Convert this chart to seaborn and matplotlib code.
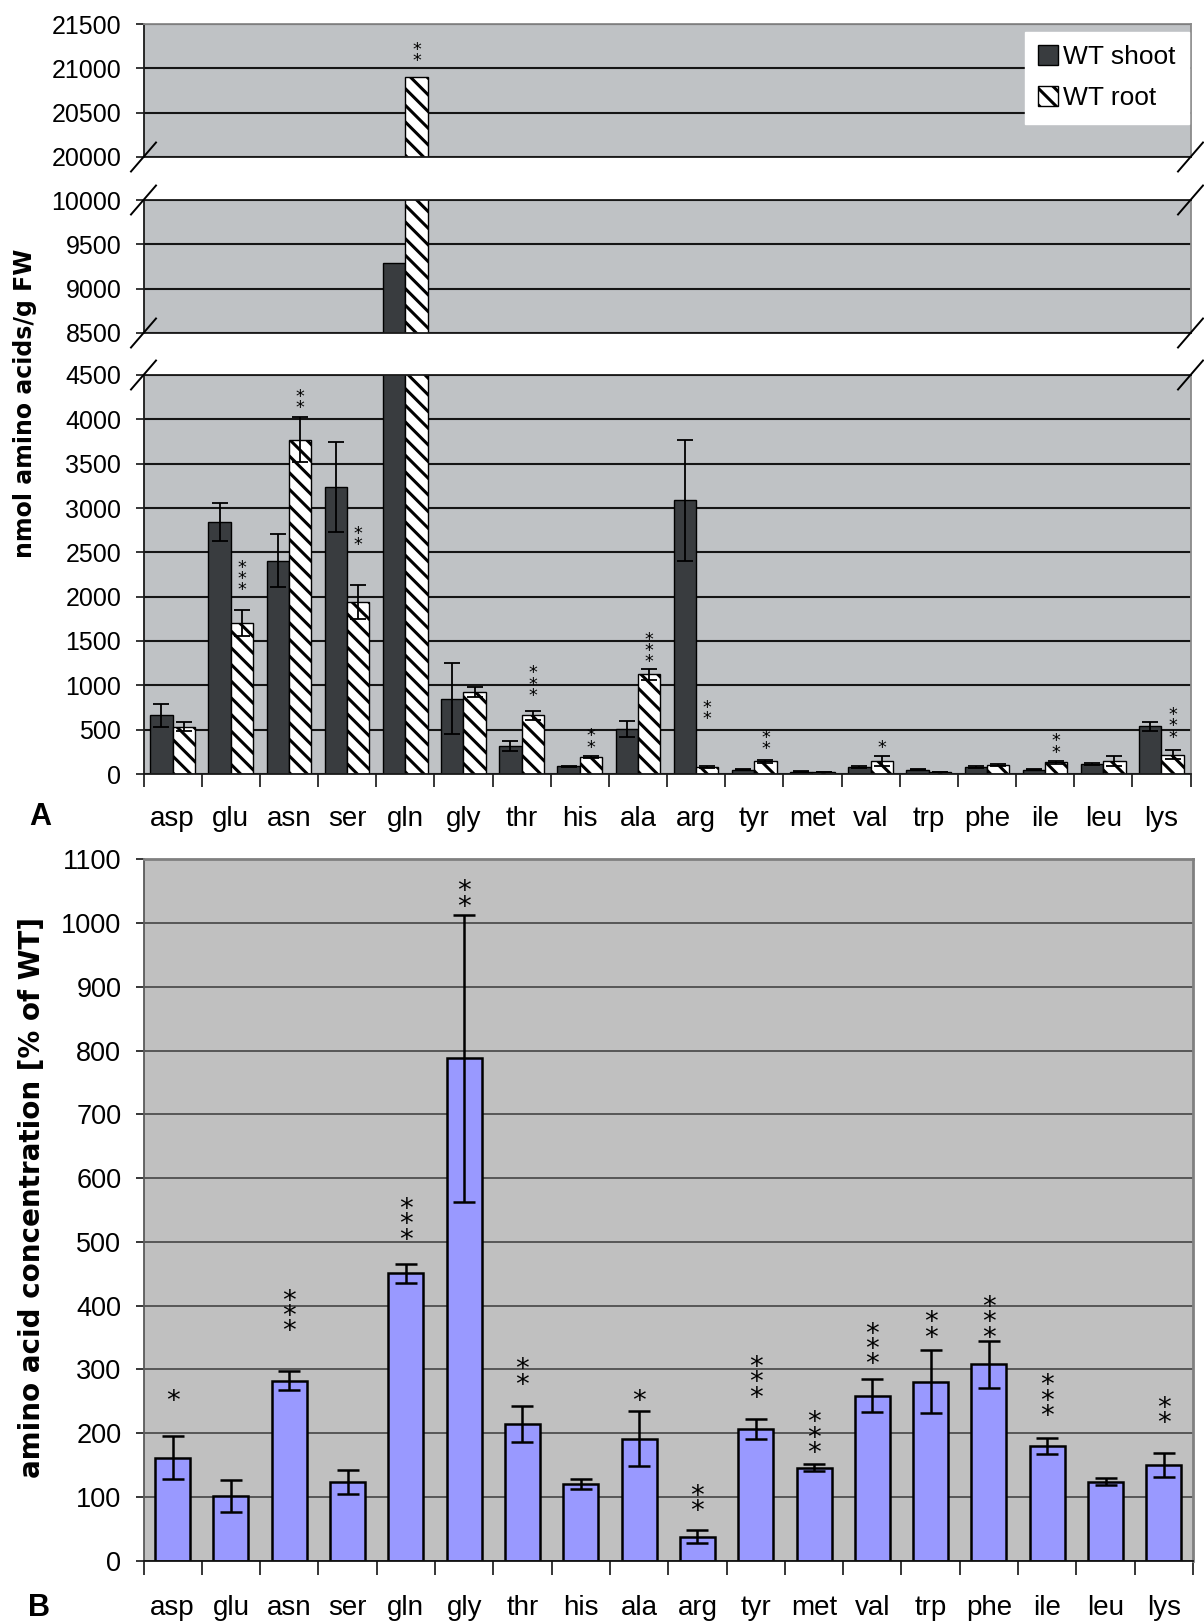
import numpy as np
import pandas as pd
import matplotlib
matplotlib.use("Agg")
import matplotlib.pyplot as plt
from matplotlib.patches import Patch
from matplotlib.lines import Line2D
from matplotlib.textpath import TextPath
from matplotlib.font_manager import FontProperties
import seaborn as sns

# ---------------- data ----------------
amino = ["asp", "glu", "asn", "ser", "gln", "gly", "thr", "his", "ala",
         "arg", "tyr", "met", "val", "trp", "phe", "ile", "leu", "lys"]

# Panel A: nmol amino acids / g FW
shoot = [660, 2840, 2405, 3235, 9290, 848, 313, 85, 509,
         3085, 49, 26, 79, 49, 79, 49, 113, 539]
shoot_err = [130, 215, 300, 505, np.nan, 400, 55, 10, 90,
             680, 5, 3, 10, 5, 10, 5, 15, 50]
root = [535, 1700, 3770, 1940, 20900, 928, 660, 192, 1124,
        79, 143, 23, 143, 23, 98, 132, 143, 219]
root_err = [50, 145, 256, 190, np.nan, 55, 50, 15, 65,
            10, 15, 3, 55, 3, 10, 15, 55, 55]
# significance stars (root vs shoot): count and base value
a_star_n = [0, 3, 2, 2, 2, 0, 3, 2, 3, 2, 2, 0, 1, 0, 0, 2, 0, 3]
a_star_y = [0, 2066, 4122, 2576, 21080, 0, 879, 294, 1256,
            615, 275, 0, 294, 0, 0, 238, 0, 407]

# Panel B: % of WT
b_vals = [161.5, 101, 282, 124, 451, 788, 214, 120, 191,
          37.6, 206.5, 146, 259, 281, 308, 180, 124, 150]
b_err = [34, 25, 15, 19, 15, 225, 28, 7.5, 43,
         10, 15, 6, 26, 50, 37, 13, 6, 19]
b_star_n = [1, 0, 3, 0, 3, 2, 2, 0, 1, 2, 3, 3, 3, 2, 3, 3, 0, 2]
b_star_y = [249, 0, 359, 0, 503, 1025, 275, 0, 249,
            77, 255, 168, 307, 349, 349, 226, 0, 215]

a_segments = [(20000, 21500), (8500, 10000), (0, 4500)]
legend_labels = ["WT shoot", "WT root"]

# ---------------- style ----------------
plt.rcParams["font.family"] = ["Liberation Sans", "DejaVu Sans"]
plt.rcParams["hatch.linewidth"] = 2.2
plt.rcParams["axes.linewidth"] = 1.3

W, H = 1204, 1622
fig = plt.figure(figsize=(W / 100, H / 100), dpi=100)
fig.patch.set_facecolor("white")

dark = "#393c3f"
bgA = "#bfc2c5"
bgB = "#c0c0c0"
barB = "#9999ff"
HATCH = "\\\\"


def px_axes(x0, x1, ytop, ybot):
    return fig.add_axes([x0 / W, 1 - ybot / H, (x1 - x0) / W, (ybot - ytop) / H])


star_prop = FontProperties(family="DejaVu Sans")
_ext = TextPath((0, 0), "*", size=1, prop=star_prop).get_extents()
_lp = TextPath((0, 0), "lp", size=1, prop=star_prop).get_extents()
_lp_d = -_lp.y0
_lp_top = _lp.y1


def draw_stars(ax, x, y, n, glyph_px, step_px):
    """Stacked asterisks as one multi-line text; glyph bottom at y."""
    fs = (glyph_px * 0.72) / _ext.height
    step_pt = step_px * 0.72
    ls = (step_pt / fs - _lp_d) / _lp_top
    off = -(_lp_d + _ext.y0) * fs
    ax.annotate("\n".join(["*"] * n), xy=(x, y), xytext=(0, off),
                textcoords="offset points", ha="center", va="bottom",
                fontsize=fs, family="DejaVu Sans", color="black",
                linespacing=ls, annotation_clip=False, zorder=5)


# ---------------- Panel A ----------------
dfA = pd.DataFrame({
    "aa": amino * 2,
    "tissue": [legend_labels[0]] * len(amino) + [legend_labels[1]] * len(amino),
    "value": shoot + root,
})
xpos = np.arange(len(amino))
bar_w = 0.77
seg_px = [(24, 157), (200, 333), (375, 774)]
axesA = []
for si, ((lo, hi), (yt, yb)) in enumerate(zip(a_segments, seg_px)):
    ax = px_axes(143.5, 1190.5, yt, yb)
    axesA.append(ax)
    ax.set_facecolor(bgA)
    ax.set_axisbelow(True)
    sns.barplot(data=dfA, x="aa", y="value", hue="tissue",
                palette={legend_labels[0]: dark, legend_labels[1]: "white"},
                saturation=1, width=bar_w, errorbar=None, ax=ax, legend=False,
                edgecolor="black", linewidth=1.0)
    for p in ax.containers[1]:
        p.set_hatch(HATCH)
        p.set_edgecolor("black")
    ax.errorbar(xpos - bar_w / 4, shoot, yerr=shoot_err, fmt="none",
                ecolor="black", elinewidth=1.3, capsize=6, capthick=1.3, zorder=4)
    ax.errorbar(xpos + bar_w / 4, root, yerr=root_err, fmt="none",
                ecolor="black", elinewidth=1.3, capsize=6, capthick=1.3, zorder=4)
    ax.set_xlim(-0.5, len(amino) - 0.5)
    ax.set_ylim(lo, hi)
    ax.set_yticks(np.arange(lo, hi + 1, 500))
    ax.yaxis.grid(True, color="#151515", linewidth=1.5)
    ax.xaxis.grid(False)
    ax.set_xlabel("")
    ax.set_ylabel("")
    ax.tick_params(axis="y", labelsize=18, length=6, width=1.1, pad=10,
                   direction="out", left=True, colors="black")
    for s in ["left", "bottom", "top"]:
        ax.spines[s].set_color("#1a1a1a")
    ax.spines["right"].set_color("#8a8a8a")
    if si == 0:
        ax.spines["top"].set_color("#8a8a8a")
    if si < 2:
        ax.tick_params(axis="x", which="both", bottom=False, labelbottom=False)
    else:
        ax.set_xticks(xpos)
        ax.set_xticklabels(amino)
        ax.set_xticks(np.arange(-0.5, len(amino)), minor=True)
        ax.tick_params(axis="x", which="major", length=0, labelsize=20, pad=23,
                       colors="black")
        ax.tick_params(axis="x", which="minor", length=9, width=1.1,
                       direction="out", bottom=True)
    for i in range(len(amino)):
        if a_star_n[i] and lo <= a_star_y[i] <= hi:
            draw_stars(ax, i + bar_w / 4, a_star_y[i], a_star_n[i], 8.0, 10.5)

handles = [Patch(facecolor=dark, edgecolor="black", label=legend_labels[0]),
           Patch(facecolor="white", edgecolor="black", hatch=HATCH, label=legend_labels[1])]
leg = axesA[0].legend(handles=handles, loc="upper right",
                      bbox_to_anchor=(1188.6 / W, 1 - 32 / H),
                      bbox_transform=fig.transFigure, frameon=True, fancybox=False,
                      edgecolor="white", framealpha=1, fontsize=19, borderaxespad=0,
                      handlelength=0.75, handleheight=0.75, handletextpad=0.2,
                      labelspacing=0.65, borderpad=0.5)
leg.set_zorder(10)

# axis break marks
for yb in [157, 200, 333, 375]:
    for xb in [143.5, 1190.5]:
        fig.add_artist(Line2D([(xb - 12.5) / W, (xb + 12.5) / W],
                              [1 - (yb + 14.5) / H, 1 - (yb - 14.5) / H],
                              color="black", linewidth=1.4,
                              transform=fig.transFigure))

# ---------------- Panel B ----------------
dfB = pd.DataFrame({"aa": amino, "pct": b_vals})
axB = px_axes(143.5, 1193, 859.3, 1560.7)
axB.set_facecolor(bgB)
axB.set_axisbelow(True)
sns.barplot(data=dfB, x="aa", y="pct", color=barB, saturation=1, width=0.6,
            edgecolor="black", linewidth=1.8, errorbar=None, ax=axB)
axB.errorbar(xpos, b_vals, yerr=b_err, fmt="none", ecolor="black",
             elinewidth=1.8, capsize=8, capthick=1.8, zorder=4)
axB.set_xlim(-0.5, len(amino) - 0.5)
axB.set_ylim(0, 1100)
axB.set_yticks(np.arange(0, 1101, 100))
axB.yaxis.grid(True, color="#3a3a3a", linewidth=1.1)
axB.xaxis.grid(False)
axB.set_xlabel("")
axB.set_ylabel("")
axB.set_xticks(xpos)
axB.set_xticklabels(amino)
axB.set_xticks(np.arange(-0.5, len(amino)), minor=True)
axB.tick_params(axis="x", which="major", length=0, labelsize=20, pad=24.5,
                colors="black")
axB.tick_params(axis="x", which="minor", length=10, width=1.1,
                direction="out", bottom=True)
axB.tick_params(axis="y", labelsize=19.5, length=6, width=1.1, pad=10,
                direction="out", left=True, colors="black")
axB.spines["left"].set_color("#5a5a5a")
axB.spines["bottom"].set_color("#111111")
for s in ["top", "right"]:
    axB.spines[s].set_color("#808080")
    axB.spines[s].set_linewidth(2)
for i in range(len(amino)):
    if b_star_n[i]:
        draw_stars(axB, i, b_star_y[i], b_star_n[i], 12.5, 15.5)

# ---------------- labels ----------------
fig.text(25 / W, 1 - 403 / H, "nmol amino acids/g FW", rotation=90,
         ha="center", va="center", fontsize=17, fontweight="bold",
         family="DejaVu Sans")
fig.text(32 / W, 1 - 1198 / H, "amino acid concentration [% of WT]", rotation=90,
         ha="center", va="center", fontsize=20, fontweight="bold",
         family="DejaVu Sans")
fig.text(40 / W, 1 - 817 / H, "A", ha="center", va="center", fontsize=22,
         fontweight="bold")
fig.text(39.5 / W, 1 - 1608 / H, "B", ha="center", va="center", fontsize=22,
         fontweight="bold")

fig.savefig("out.png", dpi=100)
